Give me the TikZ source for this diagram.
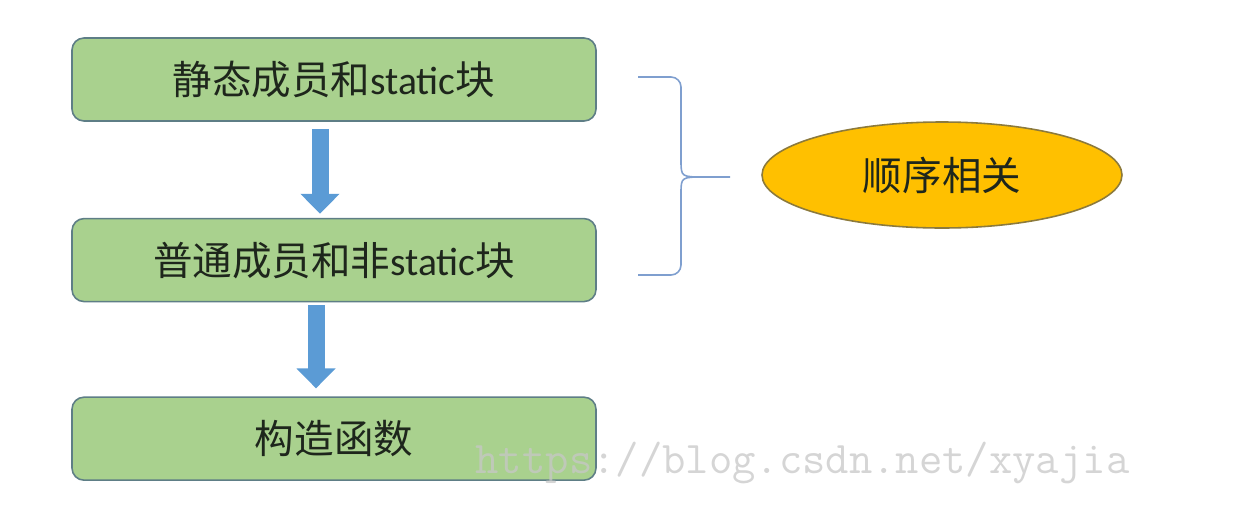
\documentclass[tikz,border=0pt]{standalone}
\usepackage{fontspec}
\setmainfont{Carlito}
\newfontfamily\cjk{Noto Sans CJK SC}
\usepackage{xcolor}
\usepackage{tikz}
\usetikzlibrary{shapes.geometric,arrows.meta,positioning}

\definecolor{boxgreen}{HTML}{A9D18E}
\definecolor{boxline}{HTML}{5E7E86}
\definecolor{arrblue}{HTML}{5B9BD5}
\definecolor{bracecol}{HTML}{7F9FCF}
\definecolor{ellfill}{HTML}{FFC000}
\definecolor{ellline}{HTML}{8C7A3C}
\definecolor{txtdark}{HTML}{1E261C}

\begin{document}
\begin{tikzpicture}[font=\fontsize{22.5}{26}\selectfont, box/.style={draw=boxline, line width=0.9pt, rounded corners=0.24cm, fill=boxgreen, text=txtdark, minimum width=10.48cm, minimum height=1.66cm}, blockarr/.style={draw=arrblue, line width=0.34cm, -{Triangle[width=0.76cm,length=0.4cm]}}, brace/.style={draw=bracecol, line width=0.9pt}]
\useasboundingbox (0,0) rectangle (24.82,-10.56);
\node[box] (static) at (6.68,-1.59) {{\cjk 静态成员和}static{\cjk 块}};
\node[box, below=1.92cm of static] (inst) {{\cjk 普通成员和非}static{\cjk 块}};
\node[box, below=1.88cm of inst] (ctor) {\cjk 构造函数};
\node[ellipse, draw=ellline, line width=0.9pt, fill=ellfill, inner sep=0pt, minimum width=7.2cm, minimum height=2.12cm, text=txtdark] (order) at (18.84,-3.5) {\cjk 顺序相关};
% block arrows
\draw[blockarr, shorten <=0.14cm, shorten >=0.08cm] ([xshift=-0.28cm]static.south) -- ([xshift=-0.28cm]inst.north);
\draw[blockarr, shorten <=0.06cm, shorten >=0.16cm] ([xshift=-0.36cm]inst.south) -- ([xshift=-0.36cm]ctor.north);
% brace
\coordinate (btop) at (12.76,-1.54);
\coordinate (bbot) at (12.76,-5.5);
\coordinate (btip) at (14.6,-3.54);
\draw[brace, rounded corners=0.2cm] (btop) -- (13.62,-1.54) -- (13.62,-3.2);
\draw[brace] (13.62,-3.2) .. controls (13.62,-3.54) .. (14.1,-3.54) -- (btip);
\draw[brace] (14.1,-3.54) .. controls (13.62,-3.54) .. (13.62,-3.88);
\draw[brace, rounded corners=0.2cm] (13.62,-3.88) -- (13.62,-5.5) -- (bbot);
% watermark
\node[anchor=base, font=\fontsize{25.8}{28}\selectfont\ttfamily, text=black!22, text opacity=0.75] (wm) at (16.05,-9.46) {https://blog.csdn.net/xyajia};
\end{tikzpicture}
\end{document}
